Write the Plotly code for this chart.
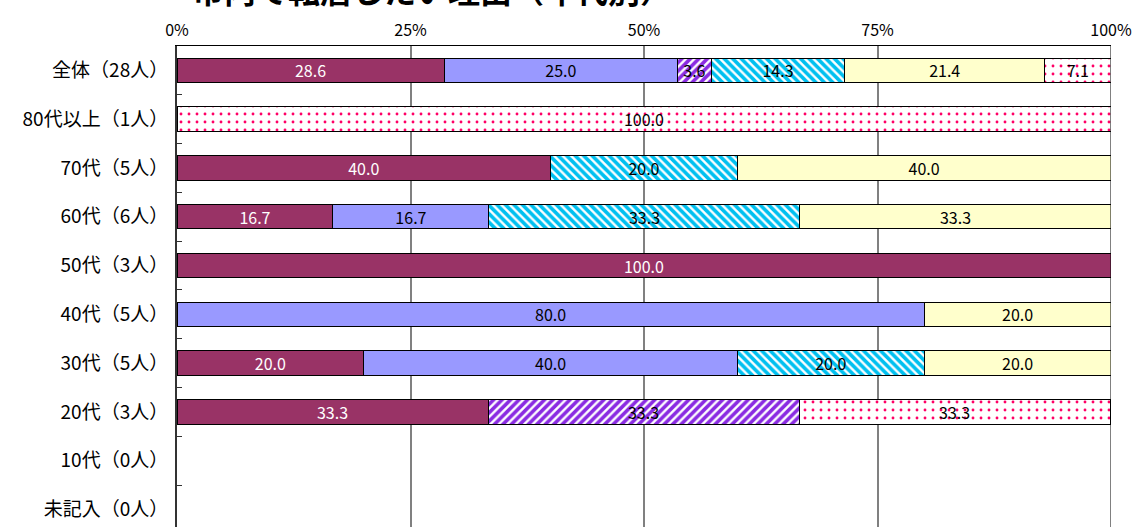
import plotly.graph_objects as go

categories = ["全体（28人）", "80代以上（1人）", "70代（5人）", "60代（6人）", "50代（3人）",
              "40代（5人）", "30代（5人）", "20代（3人）", "10代（0人）", "未記入（0人）"]

s1 = [28.6, None, 40.0, 16.7, 100.0, None, 20.0, 33.3, None, None]
s2 = [25.0, None, None, 16.7, None, 80.0, 40.0, None, None, None]
s3 = [3.6, None, None, None, None, None, None, 33.3, None, None]
s4 = [14.3, None, 20.0, 33.3, None, None, 20.0, None, None, None]
s5 = [21.4, None, 40.0, 33.3, None, 20.0, 20.0, None, None, None]
s6 = [7.1, 100.0, None, None, None, None, None, 33.3, None, None]

series_names = ["理由1", "理由2", "理由3", "理由4", "理由5", "理由6"]
tick_vals = [0, 25, 50, 75, 100]
tick_text = ["0%", "25%", "50%", "75%", "100%"]
title_text = "市内で転居したい理由（年代別）"

FONT = "Noto Sans CJK JP"

styles = [
    dict(color="#993366", pattern=None, tcolor="white"),
    dict(color="#9999FF", pattern=None, tcolor="black"),
    dict(color="white", pattern=dict(shape="/", fgcolor="#8A2BE2", bgcolor="white", size=6, solidity=0.6, fgopacity=1), tcolor="black"),
    dict(color="white", pattern=dict(shape="\\", fgcolor="#00C0F0", bgcolor="white", size=6, solidity=0.6, fgopacity=1), tcolor="black"),
    dict(color="#FFFFCC", pattern=None, tcolor="black"),
    dict(color="white", pattern=dict(shape=".", fgcolor="#FF0066", bgcolor="white", size=8, solidity=0.1, fgopacity=1), tcolor="black"),
]

fig = go.Figure()
for name, vals, st in zip(series_names, [s1, s2, s3, s4, s5, s6], styles):
    marker = dict(color=st["color"], line=dict(color="black", width=1))
    if st["pattern"]:
        marker["pattern"] = st["pattern"]
    fig.add_trace(go.Bar(
        y=categories, x=vals, name=name, orientation="h",
        marker=marker,
        text=[("" if v is None else f"{v:.1f}") for v in vals],
        textposition="inside", insidetextanchor="middle", textangle=0,
        textfont=dict(family=FONT, size=16, color=st["tcolor"]),
        constraintext="none",
        width=0.5,
    ))

fig.update_layout(
    barmode="stack",
    width=1137, height=527,
    margin=dict(l=177, r=26, t=46, b=0),
    plot_bgcolor="white", paper_bgcolor="white",
    showlegend=False,
    font=dict(family=FONT, color="black"),
    uniformtext=dict(mode=False),
)

fig.update_xaxes(
    range=[0, 100], side="top", tickvals=tick_vals, ticktext=tick_text,
    tickfont=dict(size=16, family=FONT), ticks="", ticklabelstandoff=3,
    showgrid=True, gridcolor="#808080", gridwidth=2,
    showline=True, linecolor="black", linewidth=1, mirror=False,
    zeroline=False,
)
fig.update_yaxes(
    categoryorder="array", categoryarray=categories,
    range=[9.36, -0.5], tickfont=dict(size=19, family=FONT),
    ticks="inside", tickson="boundaries", ticklen=5, tickcolor="#333333",
    showline=True, linecolor="#333333", linewidth=2, mirror=False,
    showgrid=False, ticklabelstandoff=3,
)
fig.add_shape(type="line", xref="x", yref="paper", x0=100, x1=100, y0=0, y1=1,
              line=dict(color="black", width=1))

fig.add_annotation(
    text=title_text, xref="paper", yref="paper", x=0.014, y=1.066,
    xanchor="left", yanchor="bottom", showarrow=False,
    font=dict(family=FONT, size=32, color="black", weight="bold"),
)

fig.write_html("out.html", config={"displayModeBar": False},
               post_script="document.body.style.margin='0';document.body.style.overflow='hidden';")
